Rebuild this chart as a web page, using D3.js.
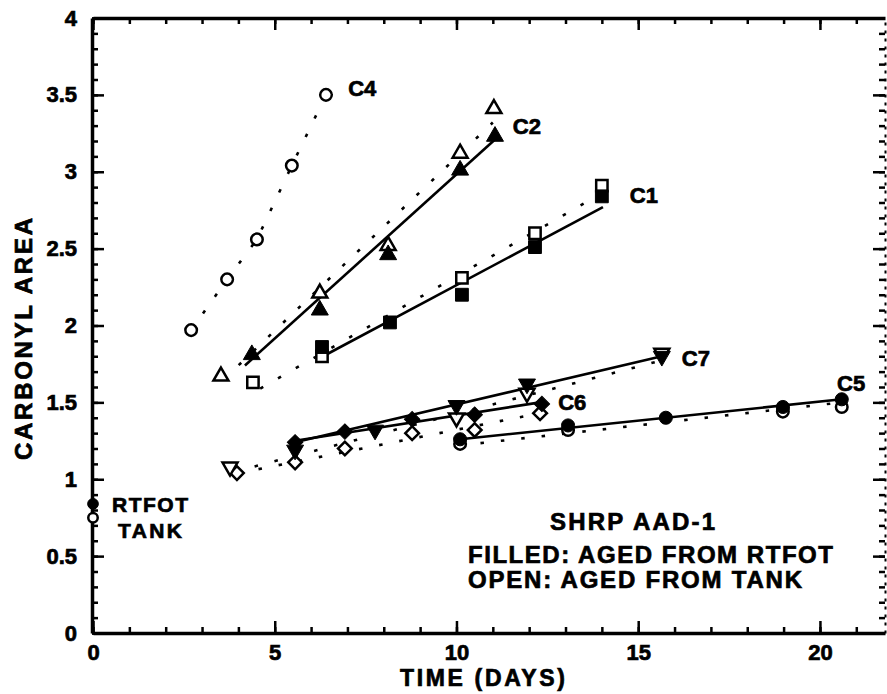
<!DOCTYPE html>
<html>
<head>
<meta charset="utf-8">
<script src="https://cdn.jsdelivr.net/npm/d3@7"></script>
<style>
  body { margin: 0; background: #fff; }
  svg text { font-family: "Liberation Sans", Arial, Helvetica, sans-serif; font-weight: bold; fill: #000; stroke: #000; stroke-width: 0.7px; }
</style>
</head>
<body>
<div id="chart"></div>
<script>
// ---- axis ticks ----
const xMajorTicks = [0, 5, 10, 15, 20];
const yMajorTicks = [0, 0.5, 1, 1.5, 2, 2.5, 3, 3.5, 4];
const yTickLabels = ['0', '0.5', '1', '1.5', '2', '2.5', '3', '3.5', '4'];

// ---- data: [time (days), carbonyl area] ----
// filled = aged from RTFOT, open = aged from tank
const c1Filled = [[6.3, 1.86], [8.17, 2.02], [10.15, 2.20], [12.16, 2.51], [14.0, 2.84]];
const c1Open   = [[4.4, 1.63], [6.3, 1.80], [10.15, 2.31], [12.16, 2.60], [14.0, 2.91]];
const c2Filled = [[4.37, 1.81], [6.24, 2.10], [8.12, 2.46], [10.1, 3.01], [11.06, 3.23]];
const c2Open   = [[3.52, 1.67], [6.24, 2.21], [8.12, 2.52], [10.1, 3.12], [11.03, 3.41]];
const c4Open   = [[2.7, 1.97], [3.69, 2.30], [4.51, 2.56], [5.47, 3.04], [6.41, 3.50]];
const c5Filled = [[10.1, 1.26], [13.07, 1.35], [15.76, 1.40], [18.98, 1.47], [20.6, 1.52]];
const c5Open   = [[10.1, 1.23], [13.07, 1.32], [18.98, 1.44], [20.6, 1.47]];
const c6Filled = [[5.56, 1.24], [6.93, 1.31], [8.78, 1.39], [10.5, 1.42], [12.35, 1.49]];
const c6Open   = [[3.96, 1.04], [5.56, 1.11], [6.93, 1.20], [8.78, 1.30], [10.5, 1.32], [12.3, 1.43]];
const c7Filled = [[5.56, 1.19], [7.76, 1.32], [10.0, 1.48], [11.94, 1.62], [15.65, 1.80]];
const c7Open   = [[3.77, 1.08], [10.0, 1.40], [11.94, 1.56], [15.65, 1.82]];
const rtfot    = [[0, 0.84]];
const tank     = [[0, 0.75]];

// fitted lines: solid for filled, dotted for open
const c1SolidFit  = [[6.33, 1.80], [14.03, 2.77]];
const c1DottedFit = [[4.6, 1.59], [14.0, 2.86]];
const c2SolidFit  = [[4.18, 1.74], [11.06, 3.21]];
const c2DottedFit = [[3.6, 1.65], [11.0, 3.32]];
const c5SolidFit  = [[10.1, 1.26], [20.6, 1.52]];
const c5DottedFit = [[10.1, 1.22], [20.6, 1.50]];
const c6SolidFit  = [[5.56, 1.25], [12.3, 1.50]];
const c6DottedFit = [[4.0, 1.04], [12.3, 1.43]];
const c7SolidFit  = [[5.56, 1.24], [15.65, 1.80]];
const c7DottedFit = [[3.9, 1.05], [15.6, 1.77]];

// series label anchors (data units)
const seriesNames  = ['C1', 'C2', 'C4', 'C5', 'C6', 'C7'];
const labelAnchors = [[14.77, 2.85], [11.55, 3.30], [7.02, 3.545], [20.47, 1.626], [12.8, 1.50], [16.2, 1.79]];

// ---- layout ----
const W = 887, H = 694;
const x = d3.scaleLinear().domain([0, 21.79]).range([93, 885]);
const y = d3.scaleLinear().domain([0, 4]).range([633, 18]);

const svg = d3.select('#chart').append('svg')
  .attr('width', W).attr('height', H);

const minorX = d3.range(0, 22, 1);
const minorY = d3.range(0, 40.5, 1).map(v => v / 10);

function styleAxis(g, width) {
  g.select('.domain').attr('stroke', '#000').attr('stroke-width', width);
  g.selectAll('.tick line').attr('stroke', '#000').attr('stroke-width', 2.5);
  g.selectAll('text').attr('font-size', 22).attr('fill', '#000')
    .style('font-family', '"Liberation Sans", Arial, sans-serif').style('font-weight', 'bold');
}

// minor ticks (all four sides)
svg.append('g').attr('transform', 'translate(0,633)')
  .call(d3.axisBottom(x).tickValues(minorX).tickSize(-6).tickSizeOuter(0).tickFormat(''))
  .call(g => styleAxis(g, 3.5));
svg.append('g').attr('transform', 'translate(0,18)')
  .call(d3.axisTop(x).tickValues(minorX).tickSize(-6).tickSizeOuter(0).tickFormat(''))
  .call(g => styleAxis(g, 3.5));
svg.append('g').attr('transform', 'translate(92,0)')
  .call(d3.axisLeft(y).tickValues(minorY).tickSize(-6).tickSizeOuter(0).tickFormat(''))
  .call(g => styleAxis(g, 3.5));
svg.append('g').attr('transform', 'translate(885,0)')
  .call(d3.axisRight(y).tickValues(minorY).tickSize(-6).tickSizeOuter(0).tickFormat(''))
  .call(g => { styleAxis(g, 2); g.select('.domain').attr('stroke-dasharray', '3,5'); });

// major ticks + labels
svg.append('g').attr('transform', 'translate(0,633)')
  .call(d3.axisBottom(x).tickValues(xMajorTicks).tickSize(-12).tickSizeOuter(0).tickPadding(11).tickFormat(d3.format('d')))
  .call(g => { styleAxis(g, 3); g.select('.domain').remove(); });
svg.append('g').attr('transform', 'translate(0,18)')
  .call(d3.axisTop(x).tickValues(xMajorTicks).tickSize(-12).tickSizeOuter(0).tickFormat(''))
  .call(g => { styleAxis(g, 3); g.select('.domain').remove(); });
svg.append('g').attr('transform', 'translate(92,0)')
  .call(d3.axisLeft(y).tickValues(yMajorTicks).tickSize(-12).tickSizeOuter(0).tickPadding(15)
    .tickFormat((d, i) => yTickLabels[i]))
  .call(g => { styleAxis(g, 3); g.select('.domain').remove(); });
svg.append('g').attr('transform', 'translate(885,0)')
  .call(d3.axisRight(y).tickValues(yMajorTicks).tickSize(-12).tickSizeOuter(0).tickFormat(''))
  .call(g => { styleAxis(g, 2); g.select('.domain').remove(); });

// axis titles
svg.append('text')
  .attr('x', 400).attr('y', 686)
  .attr('font-size', 23)
  .attr('textLength', 165).attr('lengthAdjust', 'spacing')
  .text('TIME  (DAYS)');

svg.append('text')
  .attr('transform', 'translate(32,460) rotate(-90)')
  .attr('font-size', 24)
  .attr('textLength', 242).attr('lengthAdjust', 'spacing')
  .text('CARBONYL  AREA');

// ---- lines ----
const line = d3.line().x(d => x(d[0])).y(d => y(d[1]));
const lines = svg.append('g');

const solidFits  = [c1SolidFit, c2SolidFit, c5SolidFit, c6SolidFit, c7SolidFit];
const dottedFits = [c1DottedFit, c2DottedFit, c4Open, c5DottedFit, c6DottedFit, c7DottedFit];

lines.selectAll('path.dotted')
  .data(dottedFits)
  .join('path')
  .attr('class', 'dotted')
  .attr('d', line)
  .attr('fill', 'none')
  .attr('stroke', '#000')
  .attr('stroke-width', 2.6)
  .attr('stroke-dasharray', '3.5,17');

lines.selectAll('path.solid')
  .data(solidFits)
  .join('path')
  .attr('class', 'solid')
  .attr('d', line)
  .attr('fill', 'none')
  .attr('stroke', '#000')
  .attr('stroke-width', 2.6);

// ---- markers ----
const shapes = {
  square:       { type: d3.symbolSquare,   size: 165, rot: 0 },
  triangle:     { type: d3.symbolTriangle, size: 125, rot: 0 },
  triangleDown: { type: d3.symbolTriangle, size: 125, rot: 180 },
  diamond:      { type: d3.symbolSquare,   size: 120, rot: 45 },
  circle:       { type: d3.symbolCircle,   size: 135, rot: 0 },
  smallCircle:  { type: d3.symbolCircle,   size: 90,  rot: 0 },
};

function drawMarkers(data, shapeKey, filled) {
  const s = shapes[shapeKey];
  const size = filled ? s.size : s.size * 0.78;
  svg.append('g').selectAll('path')
    .data(data)
    .join('path')
    .attr('d', d3.symbol().type(s.type).size(size)())
    .attr('transform', d => `translate(${x(d[0])},${y(d[1])}) rotate(${s.rot})`)
    .attr('fill', filled ? '#000' : '#fff')
    .attr('stroke', '#000')
    .attr('stroke-width', filled ? 1 : 2.5);
}

// open first so the filled symbols sit on top
drawMarkers(c1Open, 'square', false);
drawMarkers(c2Open, 'triangle', false);
drawMarkers(c4Open, 'circle', false);
drawMarkers(c5Open, 'circle', false);
drawMarkers(c6Open, 'diamond', false);
drawMarkers(c7Open, 'triangleDown', false);
drawMarkers(tank, 'smallCircle', false);

drawMarkers(c1Filled, 'square', true);
drawMarkers(c2Filled, 'triangle', true);
drawMarkers(c5Filled, 'circle', true);
drawMarkers(c6Filled, 'diamond', true);
drawMarkers(c7Filled, 'triangleDown', true);
drawMarkers(rtfot, 'smallCircle', true);

// ---- labels ----
svg.append('g').selectAll('text')
  .data(seriesNames)
  .join('text')
  .attr('x', (d, i) => x(labelAnchors[i][0]))
  .attr('y', (d, i) => y(labelAnchors[i][1]))
  .attr('dy', '0.36em')
  .attr('font-size', 22)
  .text(d => d);

svg.append('text').attr('x', 150).attr('y', 512).attr('text-anchor', 'middle')
  .attr('font-size', 21).attr('textLength', 76).attr('lengthAdjust', 'spacing').text('RTFOT');
svg.append('text').attr('x', 150).attr('y', 538).attr('text-anchor', 'middle')
  .attr('font-size', 21).attr('textLength', 64).attr('lengthAdjust', 'spacing').text('TANK');

svg.append('text').attr('x', 550).attr('y', 530)
  .attr('font-size', 24).attr('textLength', 165).attr('lengthAdjust', 'spacing')
  .text('SHRP  AAD-1');
svg.append('text').attr('x', 468).attr('y', 563)
  .attr('font-size', 24).attr('textLength', 365).attr('lengthAdjust', 'spacing')
  .text('FILLED:  AGED FROM RTFOT');
svg.append('text').attr('x', 468).attr('y', 588)
  .attr('font-size', 24).attr('textLength', 334).attr('lengthAdjust', 'spacing')
  .text('OPEN:  AGED FROM TANK');
</script>
</body>
</html>
